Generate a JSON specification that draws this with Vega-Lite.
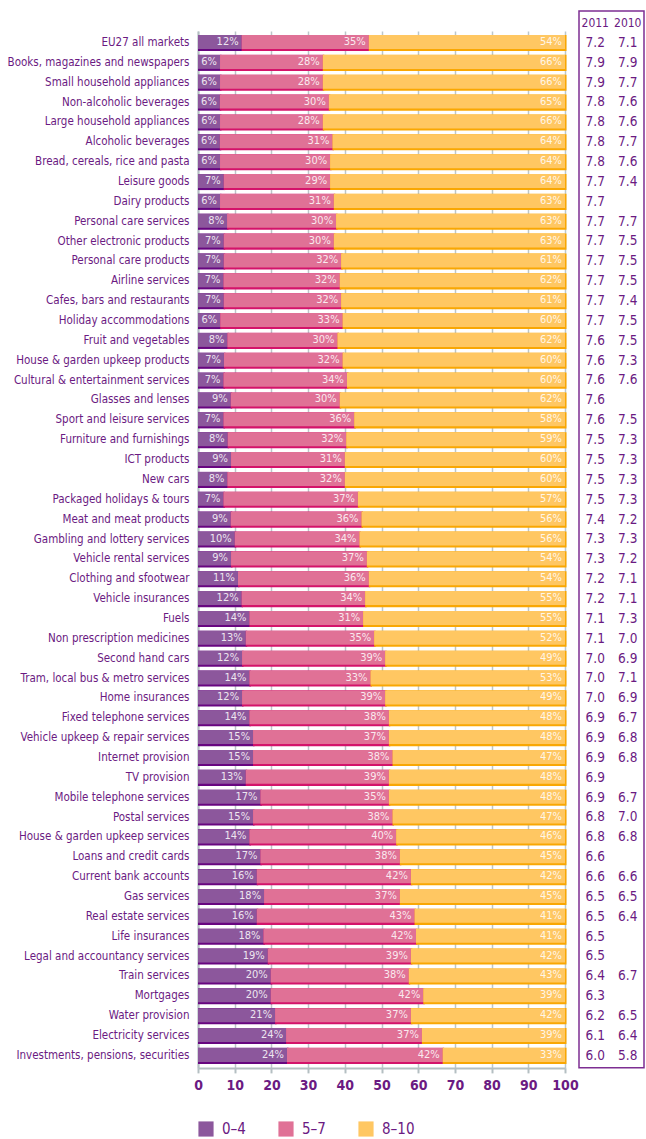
{
  "$schema": "https://vega.github.io/schema/vega-lite/v6.json",
  "background": "white",
  "padding": {"left": 7, "top": 10, "right": 0, "bottom": 0},
  "config": {"font": "DejaVu Sans Condensed, Roboto, sans-serif", "view": {"stroke": null}},
  "datasets": {
    "d": [
      {"c": "hdr"},
      {"c": "EU27 all markets", "0–4": 12, "5–7": 35, "8–10": 54, "2011": 7.2, "2010": 7.1},
      {"c": "Books, magazines and newspapers", "0–4": 6, "5–7": 28, "8–10": 66, "2011": 7.9, "2010": 7.9},
      {"c": "Small household appliances", "0–4": 6, "5–7": 28, "8–10": 66, "2011": 7.9, "2010": 7.7},
      {"c": "Non-alcoholic beverages", "0–4": 6, "5–7": 30, "8–10": 65, "2011": 7.8, "2010": 7.6},
      {"c": "Large household appliances", "0–4": 6, "5–7": 28, "8–10": 66, "2011": 7.8, "2010": 7.6},
      {"c": "Alcoholic beverages", "0–4": 6, "5–7": 31, "8–10": 64, "2011": 7.8, "2010": 7.7},
      {"c": "Bread, cereals, rice and pasta", "0–4": 6, "5–7": 30, "8–10": 64, "2011": 7.8, "2010": 7.6},
      {"c": "Leisure goods", "0–4": 7, "5–7": 29, "8–10": 64, "2011": 7.7, "2010": 7.4},
      {"c": "Dairy products", "0–4": 6, "5–7": 31, "8–10": 63, "2011": 7.7, "2010": null},
      {"c": "Personal care services", "0–4": 8, "5–7": 30, "8–10": 63, "2011": 7.7, "2010": 7.7},
      {"c": "Other electronic products", "0–4": 7, "5–7": 30, "8–10": 63, "2011": 7.7, "2010": 7.5},
      {"c": "Personal care products", "0–4": 7, "5–7": 32, "8–10": 61, "2011": 7.7, "2010": 7.5},
      {"c": "Airline services", "0–4": 7, "5–7": 32, "8–10": 62, "2011": 7.7, "2010": 7.5},
      {"c": "Cafes, bars and restaurants", "0–4": 7, "5–7": 32, "8–10": 61, "2011": 7.7, "2010": 7.4},
      {"c": "Holiday accommodations", "0–4": 6, "5–7": 33, "8–10": 60, "2011": 7.7, "2010": 7.5},
      {"c": "Fruit and vegetables", "0–4": 8, "5–7": 30, "8–10": 62, "2011": 7.6, "2010": 7.5},
      {"c": "House & garden upkeep products", "0–4": 7, "5–7": 32, "8–10": 60, "2011": 7.6, "2010": 7.3},
      {"c": "Cultural & entertainment services", "0–4": 7, "5–7": 34, "8–10": 60, "2011": 7.6, "2010": 7.6},
      {"c": "Glasses and lenses", "0–4": 9, "5–7": 30, "8–10": 62, "2011": 7.6, "2010": null},
      {"c": "Sport and leisure services", "0–4": 7, "5–7": 36, "8–10": 58, "2011": 7.6, "2010": 7.5},
      {"c": "Furniture and furnishings", "0–4": 8, "5–7": 32, "8–10": 59, "2011": 7.5, "2010": 7.3},
      {"c": "ICT products", "0–4": 9, "5–7": 31, "8–10": 60, "2011": 7.5, "2010": 7.3},
      {"c": "New cars", "0–4": 8, "5–7": 32, "8–10": 60, "2011": 7.5, "2010": 7.3},
      {"c": "Packaged holidays & tours", "0–4": 7, "5–7": 37, "8–10": 57, "2011": 7.5, "2010": 7.3},
      {"c": "Meat and meat products", "0–4": 9, "5–7": 36, "8–10": 56, "2011": 7.4, "2010": 7.2},
      {"c": "Gambling and lottery services", "0–4": 10, "5–7": 34, "8–10": 56, "2011": 7.3, "2010": 7.3},
      {"c": "Vehicle rental services", "0–4": 9, "5–7": 37, "8–10": 54, "2011": 7.3, "2010": 7.2},
      {"c": "Clothing and sfootwear", "0–4": 11, "5–7": 36, "8–10": 54, "2011": 7.2, "2010": 7.1},
      {"c": "Vehicle insurances", "0–4": 12, "5–7": 34, "8–10": 55, "2011": 7.2, "2010": 7.1},
      {"c": "Fuels", "0–4": 14, "5–7": 31, "8–10": 55, "2011": 7.1, "2010": 7.3},
      {"c": "Non prescription medicines", "0–4": 13, "5–7": 35, "8–10": 52, "2011": 7.1, "2010": 7.0},
      {"c": "Second hand cars", "0–4": 12, "5–7": 39, "8–10": 49, "2011": 7.0, "2010": 6.9},
      {"c": "Tram, local bus & metro services", "0–4": 14, "5–7": 33, "8–10": 53, "2011": 7.0, "2010": 7.1},
      {"c": "Home insurances", "0–4": 12, "5–7": 39, "8–10": 49, "2011": 7.0, "2010": 6.9},
      {"c": "Fixed telephone services", "0–4": 14, "5–7": 38, "8–10": 48, "2011": 6.9, "2010": 6.7},
      {"c": "Vehicle upkeep & repair services", "0–4": 15, "5–7": 37, "8–10": 48, "2011": 6.9, "2010": 6.8},
      {"c": "Internet provision", "0–4": 15, "5–7": 38, "8–10": 47, "2011": 6.9, "2010": 6.8},
      {"c": "TV provision", "0–4": 13, "5–7": 39, "8–10": 48, "2011": 6.9, "2010": null},
      {"c": "Mobile telephone services", "0–4": 17, "5–7": 35, "8–10": 48, "2011": 6.9, "2010": 6.7},
      {"c": "Postal services", "0–4": 15, "5–7": 38, "8–10": 47, "2011": 6.8, "2010": 7.0},
      {"c": "House & garden upkeep services", "0–4": 14, "5–7": 40, "8–10": 46, "2011": 6.8, "2010": 6.8},
      {"c": "Loans and credit cards", "0–4": 17, "5–7": 38, "8–10": 45, "2011": 6.6, "2010": null},
      {"c": "Current bank accounts", "0–4": 16, "5–7": 42, "8–10": 42, "2011": 6.6, "2010": 6.6},
      {"c": "Gas services", "0–4": 18, "5–7": 37, "8–10": 45, "2011": 6.5, "2010": 6.5},
      {"c": "Real estate services", "0–4": 16, "5–7": 43, "8–10": 41, "2011": 6.5, "2010": 6.4},
      {"c": "Life insurances", "0–4": 18, "5–7": 42, "8–10": 41, "2011": 6.5, "2010": null},
      {"c": "Legal and accountancy services", "0–4": 19, "5–7": 39, "8–10": 42, "2011": 6.5, "2010": null},
      {"c": "Train services", "0–4": 20, "5–7": 38, "8–10": 43, "2011": 6.4, "2010": 6.7},
      {"c": "Mortgages", "0–4": 20, "5–7": 42, "8–10": 39, "2011": 6.3, "2010": null},
      {"c": "Water provision", "0–4": 21, "5–7": 37, "8–10": 42, "2011": 6.2, "2010": 6.5},
      {"c": "Electricity services", "0–4": 24, "5–7": 37, "8–10": 39, "2011": 6.1, "2010": 6.4},
      {"c": "Investments, pensions, securities", "0–4": 24, "5–7": 42, "8–10": 33, "2011": 6.0, "2010": 5.8}
    ]
  },
  "data": {"name": "d"},
  "spacing": -9,
  "resolve": {"scale": {"color": "independent"}},
  "hconcat": [
    {
      "spacing": 0,
      "vconcat": [
        {
          "width": 367,
          "height": 19.86,
          "data": {"values": [{}]},
          "mark": {"type": "rect", "opacity": 0},
          "encoding": {}
        },
        {
          "width": 367,
          "height": {"step": 19.86},
          "transform": [
            {"filter": "datum.c != 'hdr'"},
            {"fold": ["0–4", "5–7", "8–10"], "as": ["k", "pct"]},
            {"stack": "pct", "groupby": ["c"], "sort": [{"field": "k", "order": "ascending"}], "offset": "normalize", "as": ["x0", "x1"]}
          ],
          "encoding": {
            "y": {
              "field": "c", "type": "nominal", "sort": null,
              "scale": {"type": "band", "paddingInner": 0.19, "paddingOuter": 0.2},
              "axis": {"title": null,
                       "ticks": false, "domain": true, "domainColor": "#b4bfc2", "domainWidth": 2,
                       "labelFontSize": 11.5, "labelColor": "#6b1a82",
                       "labelPadding": 9, "labelLimit": 400}
            },
            "x": {"field": "x1", "type": "quantitative", "scale": {"domain": [0, 1]},
                  "axis": {"title": null, "values": [0, 0.1, 0.2, 0.3, 0.4, 0.5, 0.6, 0.7, 0.8, 0.9, 1],
                           "labelExpr": "format(datum.value * 100, 'd')", "labelOverlap": false, "labelFlush": false,
                           "labelFontWeight": "bold", "labelFontSize": 14,
                           "labelColor": "#6b1a82", "labelPadding": 6,
                           "grid": true, "gridColor": "#bcc6c9", "gridWidth": 1.5,
                           "domainColor": "#b4bfc2", "domainWidth": 2,
                           "tickColor": "#b4bfc2", "tickWidth": 2, "tickSize": 5}}
          },
          "layer": [
            {
              "mark": {"type": "bar", "xOffset": 1.5},
              "encoding": {
                "x2": {"field": "x0"},
                "color": {"field": "k", "type": "nominal",
                          "scale": {"domain": ["0–4", "5–7", "8–10"], "range": ["#680680", "#d4136a", "#f9a703"]},
                          "legend": null}
              }
            },
            {
              "mark": {"type": "bar", "size": 14, "yOffset": -1},
              "encoding": {
                "x2": {"field": "x0"},
                "color": {"field": "k", "type": "nominal",
                          "scale": {"domain": ["0–4", "5–7", "8–10"], "range": ["#8c579c", "#e07196", "#ffc762"]},
                          "legend": {"orient": "bottom", "direction": "horizontal", "title": null,
                                     "symbolType": "square", "symbolSize": 230, "symbolStrokeWidth": 0, "symbolOpacity": 1,
                                     "labelFontSize": 15, "labelColor": "#6b1a82",
                                     "labelOffset": 8, "columnPadding": 32, "offset": 28}}
              }
            },
            {
              "mark": {"type": "text", "align": "right", "dx": -3, "dy": -1, "baseline": "middle",
                       "text": {"expr": "datum.pct + '%'"},
                       "fontSize": 11, "color": "#ffffff", "opacity": 0.85}
            }
          ],
          "resolve": {"scale": {"color": "independent"}}
        }
      ]
    },
    {
      "width": 65,
      "height": {"step": 19.86},
      "view": {"stroke": "#7d2e92", "strokeWidth": 1.5},
      "transform": [
        {"fold": ["2011", "2010"], "as": ["year", "v"]},
        {"filter": "datum.c == 'hdr' || datum.v != null"}
      ],
      "mark": {"type": "text", "text": {"expr": "datum.c == 'hdr' ? datum.year : format(datum.v, '.1f')"},
               "fontSize": {"expr": "datum.c == 'hdr' ? 12 : 13.5"}, "color": "#6b1a82", "baseline": "middle"},
      "encoding": {
        "y": {"field": "c", "type": "nominal", "sort": null,
              "scale": {"type": "band", "paddingInner": 0.19, "paddingOuter": 0.2}, "axis": null},
        "x": {"field": "year", "type": "nominal", "sort": ["2011", "2010"], "scale": {"padding": 0.5}, "axis": null}
      }
    }
  ]
}
